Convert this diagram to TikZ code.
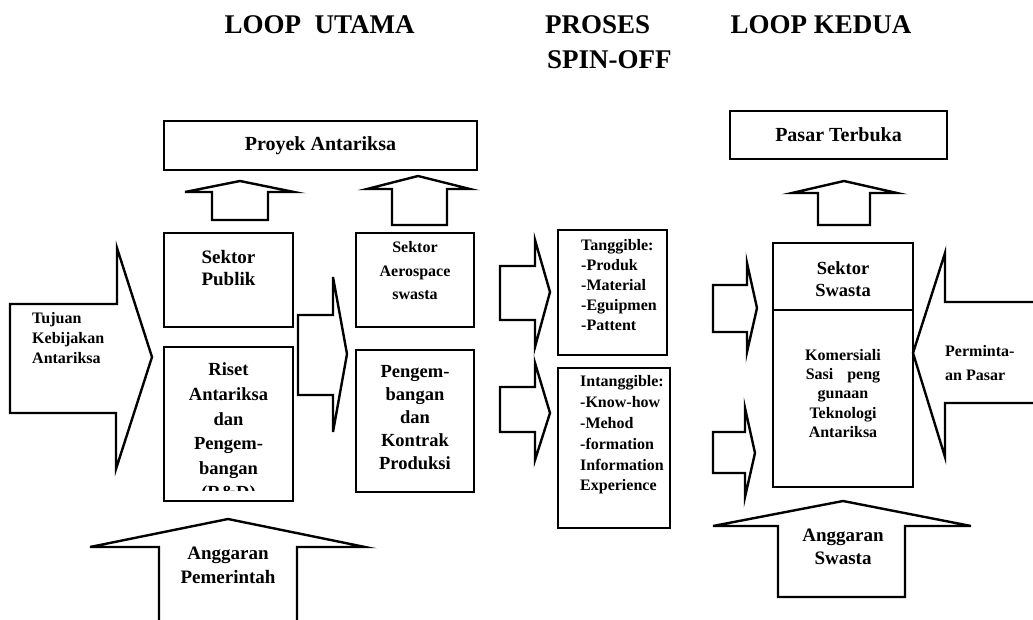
\documentclass[tikz,border=0pt]{standalone}
\usepackage{fontspec}
\setmainfont{Liberation Serif}
\newcommand{\fsz}[2]{\fontsize{#1}{#2}\selectfont}
\begin{document}
\begin{tikzpicture}[x=1pt,y=-1pt,
  box/.style={draw, line width=2.4pt, inner sep=0pt, font=\bfseries},
  lbl/.style={inner sep=0pt, font=\bfseries},
  blk/.style={draw, line width=2.4pt, fill=white, line join=miter},
  ttl/.style={inner sep=0pt, font=\bfseries\fsz{27}{30}}]
\useasboundingbox (0,0) rectangle (1033,619);

% titles
\node[ttl] (t1) at (319.5,25) {LOOP\ \ UTAMA};
\node[ttl, anchor=west] (t2) at (545,25) {PROSES};
\node[ttl, anchor=west] (t3) at (547,60) {SPIN-OFF};
\node[ttl] (t4) at (821,25) {LOOP KEDUA};

% boxes
\node[box, minimum width=313pt, minimum height=49pt, font=\bfseries\fsz{20}{24}] (proyek) at (320.5,145.5) {Proyek Antariksa};
\node[box, minimum width=217pt, minimum height=48pt, font=\bfseries\fsz{20}{24}] (pasar) at (838.5,135) {Pasar Terbuka};

\node[box, minimum width=129pt, minimum height=94pt] (publik) at (228.5,280) {};
\node[lbl, align=center, font=\bfseries\fsz{19}{22}] (publikT) at (228.5,268) {Sektor\\Publik};

\node[box, minimum width=129pt, minimum height=154pt] (riset) at (228.5,424) {};
\begin{scope}
\clip (164,347) rectangle (293,490);
\node[lbl, align=center, font=\bfseries\fsz{18.5}{24.6}] (risetT) at (228.5,433) {Riset\\Antariksa\\dan\\Pengem-\\bangan\\(R\&D)};
\end{scope}

\node[box, minimum width=118pt, minimum height=94pt] (aero) at (415,280) {};
\node[lbl, align=center, font=\bfseries\fsz{16}{23.5}] (aeroT) at (415,271) {Sektor\\Aerospace\\swasta};

\node[box, minimum width=118pt, minimum height=142pt] (kontrak) at (415,421) {};
\node[lbl, align=center, font=\bfseries\fsz{18.5}{22.8}] (kontrakT) at (415,417.5) {Pengem-\\bangan\\dan\\Kontrak\\Produksi};

\node[box, minimum width=109pt, minimum height=125pt] (tang) at (612.5,292.5) {};
\node[lbl, align=left, anchor=west, font=\bfseries\fsz{16}{20}] (tangT) at (581,285) {Tanggible:\\-Produk\\-Material\\-Eguipmen\\-Pattent};

\node[box, minimum width=112pt, minimum height=160pt] (intang) at (614,448) {};
\node[lbl, align=left, anchor=west, font=\bfseries\fsz{16}{20.8}] (intangT) at (580,435) {Intanggible:\\-Know-how\\-Mehod\\-formation\\Information\\Experience};

\node[box, minimum width=140pt, minimum height=244pt] (swasta) at (843,365) {};
\draw[line width=2.4pt] (swasta.west |- 0,310) coordinate (dl) -- (swasta.east |- 0,310) coordinate (dr);
\node[lbl, align=center, font=\bfseries\fsz{18.5}{22}] (swastaT) at (843,279) {Sektor\\Swasta};
\node[lbl, align=center, font=\bfseries\fsz{16}{19.3}] (komT) at (843,393.5) {Komersiali\\Sasi\hspace{14pt}peng\\gunaan\\Teknologi\\Antariksa};

% block arrows
\draw[blk] (212,220) -- (212,192) -- (185,192) -- (240,181) -- (294,192) -- (268,192) -- (268,220) -- cycle;
\draw[blk] (392,225) -- (392,189) -- (367,189) -- (418,176) -- (470,189) -- (447,189) -- (447,225) -- cycle;
\draw[blk] (818,225) -- (818,193) -- (792,193) -- (844,181) -- (897,193) -- (870,193) -- (870,225) -- cycle;

\draw[blk] (10,304) -- (117,304) -- (117,248) -- (152,357) -- (116,469) -- (116,413) -- (10,413) -- cycle;
\node[lbl, align=left, anchor=west, font=\bfseries\fsz{16}{20}] (tujuan) at (32,338) {Tujuan\\Kebijakan\\Antariksa};

\draw[blk] (298,315) -- (333,315) -- (333,277) -- (347,354) -- (333,432) -- (333,395) -- (298,395) -- cycle;

\draw[blk] (500,266) -- (535,266) -- (535,240) -- (550,292) -- (535,347) -- (535,320) -- (500,320) -- cycle;
\draw[blk] (500,387) -- (535,387) -- (535,363) -- (550,413) -- (535,460) -- (535,432) -- (500,432) -- cycle;

\draw[blk] (713,285) -- (747,285) -- (747,263) -- (757,308) -- (747,352) -- (747,332) -- (713,332) -- cycle;
\draw[blk] (713,432) -- (745,432) -- (745,408) -- (755,453) -- (745,497) -- (745,473) -- (713,473) -- cycle;

\draw[blk] (1034,302) -- (945,302) -- (945,253) -- (913,353) -- (945,457) -- (945,403) -- (1034,403);
\node[lbl, align=left, anchor=west, font=\bfseries\fsz{16}{24}] (perm) at (945,363) {Perminta-\\an Pasar};

\draw[blk] (159,620) -- (159,547) -- (90,547) -- (228,519) -- (365,547) -- (297,547) -- (297,620);
\node[lbl, align=center, font=\bfseries\fsz{19}{24}] (angP) at (228,565) {Anggaran\\Pemerintah};

\draw[blk] (778,597) -- (778,526) -- (713,526) -- (843,501) -- (971,526) -- (905,526) -- (905,597) -- cycle;
\node[lbl, align=center, font=\bfseries\fsz{19}{23}] (angS) at (843,546.5) {Anggaran\\Swasta};
\end{tikzpicture}
\end{document}
